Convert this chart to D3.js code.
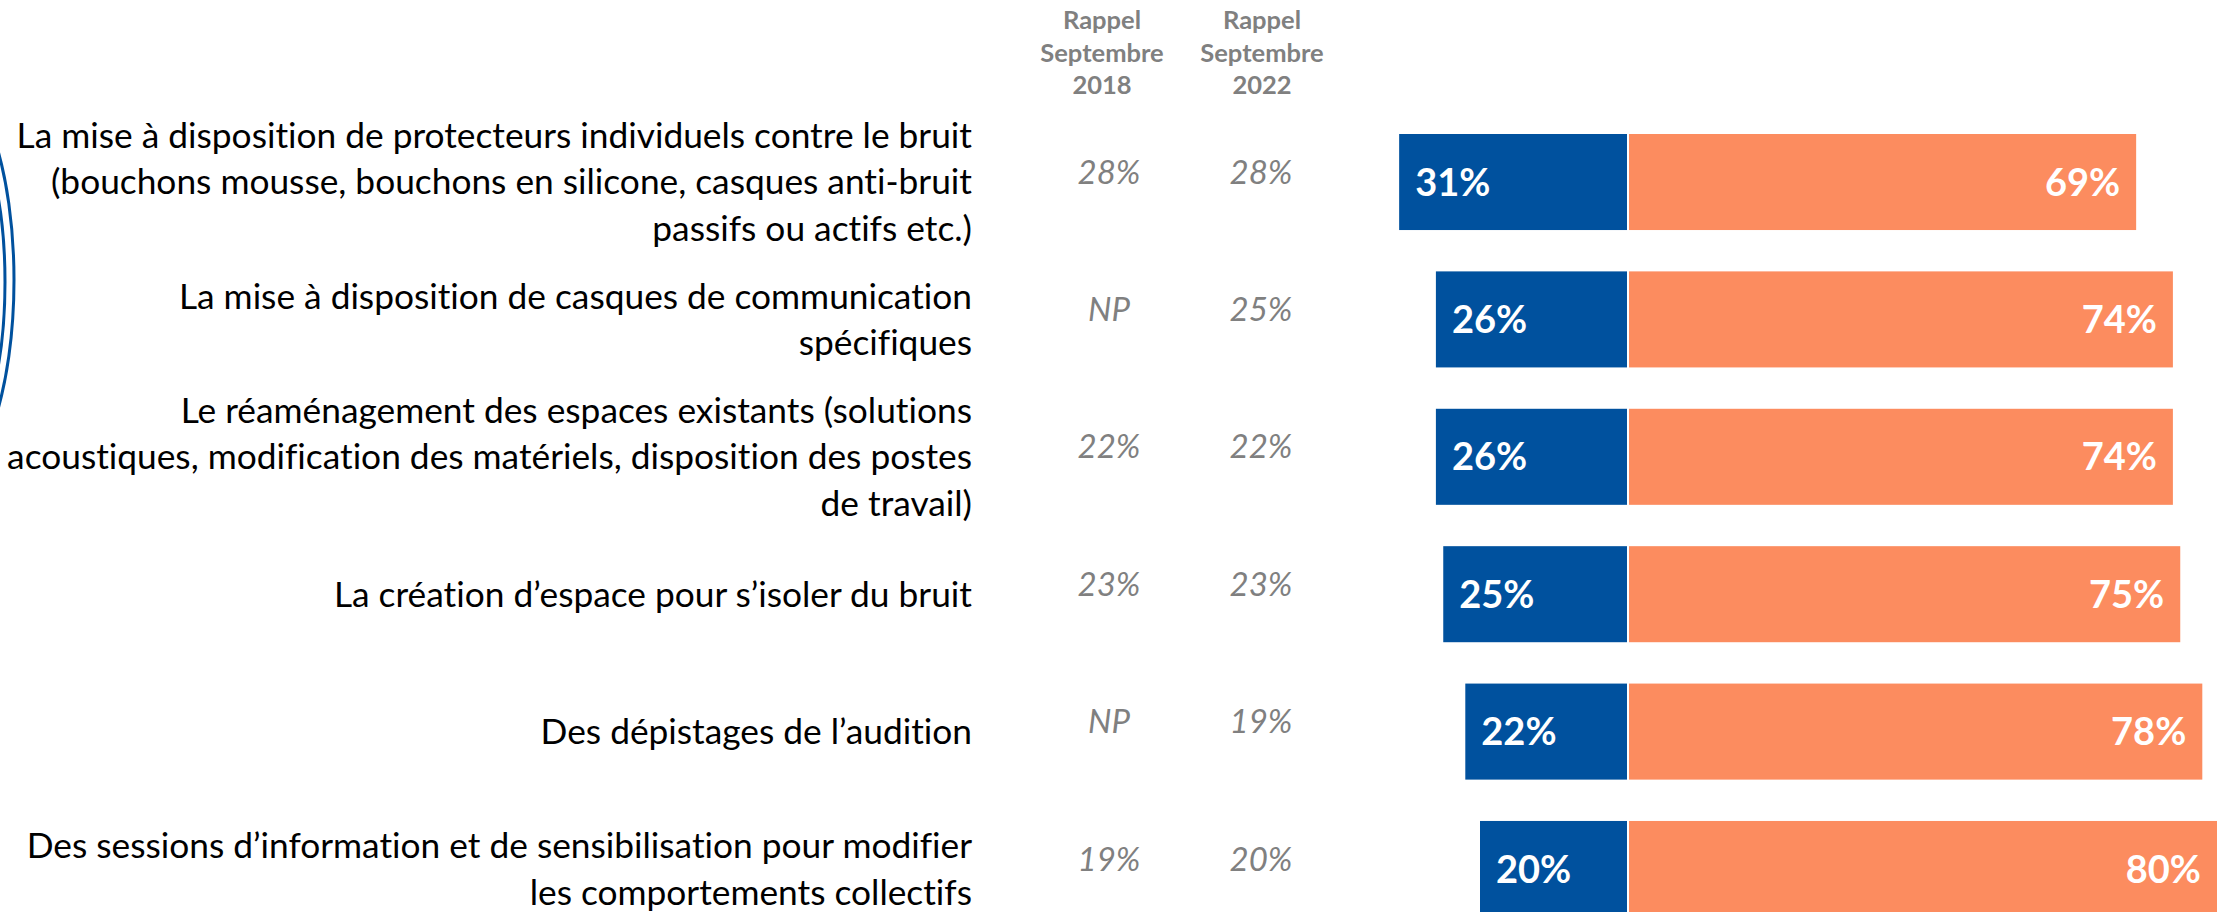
<!DOCTYPE html>
<html>
<head>
<meta charset="utf-8">
<script src="https://cdn.jsdelivr.net/npm/d3@7"></script>
<style>
  html, body { margin: 0; padding: 0; background: #ffffff; }
  svg { display: block; }
  text { font-variant-ligatures: none; font-feature-settings: "liga" 0; }
</style>
</head>
<body>
<svg id="chart" width="2229" height="912"></svg>
<script>
// ---- Data ----
const categories = [
  "La mise à disposition de protecteurs individuels contre le bruit\n(bouchons mousse, bouchons en silicone, casques anti-bruit\npassifs ou actifs etc.)",
  "La mise à disposition de casques de communication\nspécifiques",
  "Le réaménagement des espaces existants (solutions\nacoustiques, modification des matériels, disposition des postes\nde travail)",
  "La création d’espace pour s’isoler du bruit",
  "Des dépistages de l’audition",
  "Des sessions d’information et de sensibilisation pour modifier\nles comportements collectifs"
];
const blueValues = [31, 26, 26, 25, 22, 20];
const orangeValues = [69, 74, 74, 75, 78, 80];
const rappel2018 = ["28%", "NP", "22%", "23%", "NP", "19%"];
const rappel2022 = ["28%", "25%", "22%", "23%", "19%", "20%"];
const headers = [["Rappel", "Septembre", "2018"], ["Rappel", "Septembre", "2022"]];

// ---- Layout ----
const W = 2229, H = 912;
const BLUE = "#00519E", ORANGE = "#FC8C5F", GRAY = "#808080";
const FONT = "Lato, 'Open Sans', sans-serif";
const centerX = 1628;
const svg = d3.select("#chart");

const x = d3.scaleLinear().domain([0, 100]).range([0, 735]);
const y = d3.scaleBand().domain(d3.range(categories.length))
  .range([134, 917]).paddingInner(0.301).paddingOuter(0);

const rows = categories.map((c, i) => ({
  label: c, blue: blueValues[i], orange: orangeValues[i],
  r18: rappel2018[i], r22: rappel2022[i], i
}));

// decorative double arc at the left edge
const deco = svg.append("g").attr("fill", "none").attr("stroke", BLUE).attr("stroke-width", 3);
deco.append("ellipse").attr("cx", -60).attr("cy", 280).attr("rx", 74).attr("ry", 208);
deco.append("ellipse").attr("cx", -60).attr("cy", 282).attr("rx", 65).attr("ry", 187);

// column headers
const colX = [1102, 1262];
headers.forEach((h, k) => {
  const t = svg.append("text")
    .attr("x", colX[k]).attr("y", 29)
    .attr("text-anchor", "middle")
    .attr("font-family", FONT).attr("font-weight", 700)
    .attr("font-size", 25.5).attr("fill", GRAY);
  h.forEach((line, j) => {
    t.append("tspan").attr("x", colX[k]).attr("y", 29 + j * 32.5).text(line);
  });
});

const row = svg.selectAll("g.row").data(rows).enter().append("g").attr("class", "row");

// category labels (right-aligned, multi-line, vertically centered on bar)
const lineH = 46.5;
row.each(function(d) {
  const g = d3.select(this);
  const lines = d.label.split("\n");
  const cy = y(d.i) + y.bandwidth() / 2;
  const t = g.append("text")
    .attr("text-anchor", "end")
    .attr("font-family", FONT).attr("font-size", 35.3).attr("fill", "#000");
  lines.forEach((ln, j) => {
    t.append("tspan")
      .attr("x", 972)
      .attr("y", cy + (j - (lines.length - 1) / 2) * lineH)
      .attr("dy", "0.35em")
      .text(ln);
  });
});

// rappel columns
row.append("text")
  .attr("x", 1109).attr("y", d => y(d.i) + y.bandwidth() / 2 - 10).attr("dy", "0.35em")
  .attr("text-anchor", "middle").attr("font-family", FONT).attr("font-style", "italic")
  .attr("font-size", 33).attr("fill", GRAY).text(d => d.r18);
row.append("text")
  .attr("x", 1261).attr("y", d => y(d.i) + y.bandwidth() / 2 - 10).attr("dy", "0.35em")
  .attr("text-anchor", "middle").attr("font-family", FONT).attr("font-style", "italic")
  .attr("font-size", 33).attr("fill", GRAY).text(d => d.r22);

// bars
row.append("rect")
  .attr("x", d => centerX - 1 - x(d.blue)).attr("y", d => y(d.i))
  .attr("width", d => x(d.blue)).attr("height", y.bandwidth())
  .attr("fill", BLUE);
row.append("rect")
  .attr("x", centerX + 1).attr("y", d => y(d.i))
  .attr("width", d => x(d.orange)).attr("height", y.bandwidth())
  .attr("fill", ORANGE);

// bar value labels
row.append("text")
  .attr("x", d => centerX - 1 - x(d.blue) + 16)
  .attr("y", d => y(d.i) + y.bandwidth() / 2).attr("dy", "0.36em")
  .attr("font-family", FONT).attr("font-weight", 700).attr("font-size", 38)
  .attr("fill", "#fff").text(d => d.blue + "%");
row.append("text")
  .attr("x", d => centerX + 1 + x(d.orange) - 16)
  .attr("y", d => y(d.i) + y.bandwidth() / 2).attr("dy", "0.36em")
  .attr("text-anchor", "end")
  .attr("font-family", FONT).attr("font-weight", 700).attr("font-size", 38)
  .attr("fill", "#fff").text(d => d.orange + "%");
</script>
</body>
</html>
